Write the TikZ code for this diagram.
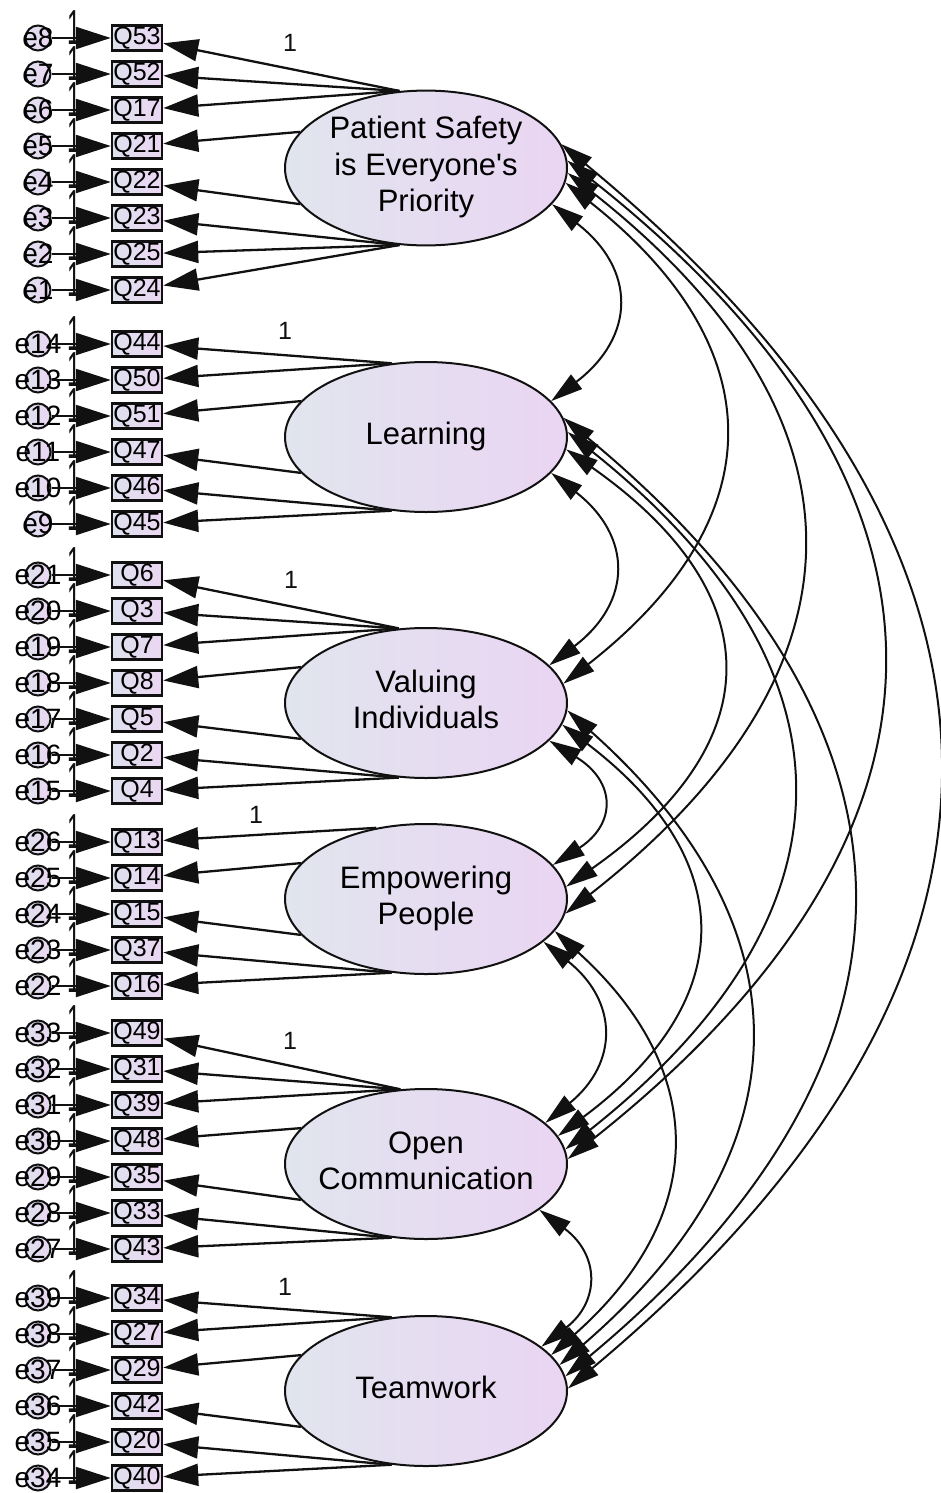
\documentclass[tikz,border=0pt]{standalone}
\usepackage{fontspec}
\setmainfont{Liberation Sans}[Ligatures=TeXOff]
\usepackage{graphicx}
\usetikzlibrary{arrows.meta,shapes.geometric,calc}
\definecolor{ink}{HTML}{111111}
\definecolor{latL}{HTML}{E1E5EE}
\definecolor{latR}{HTML}{EAD5F3}
\definecolor{boxL}{HTML}{DEE1EE}
\definecolor{boxR}{HTML}{EBD6F2}
\pgfdeclarelayer{back}
\pgfsetlayers{back,main}

\tikzset{
  obs/.style={rectangle, draw=ink, line width=2.5pt, minimum width=50pt, minimum height=25pt,
    inner sep=0pt, left color=boxL, right color=boxR, font=\fontsize{25}{25}\selectfont},
  err/.style={circle, draw=ink, line width=2pt, minimum size=25pt, inner sep=0pt,
    left color=boxL, right color=boxR, font=\fontsize{28}{28}\selectfont},
  lat/.style={ellipse, draw=ink, line width=2pt, minimum width=282pt, minimum height=150pt,
    inner sep=0pt, left color=latL, right color=latR, font=\fontsize{31}{36.5}\selectfont},
  reg/.style={draw=ink, line width=2.3pt, -{Triangle[length=35pt,width=22pt]}},
  covar/.style={draw=ink, line width=2pt,
    {Triangle[length=32pt,width=18pt]}-{Triangle[length=32pt,width=18pt]}},
  wt/.style={font=\fontsize{25}{25}\selectfont, inner sep=0pt, text=ink},
  wtstack/.style={font=\fontsize{24}{24}\selectfont, inner sep=0pt, anchor=north, text=ink},
}

% centred multi-line label that does not widen the ellipse
\newcommand\lattext[1]{\makebox[0pt]{\begin{tabular}{@{}c@{}}#1\end{tabular}}}

% one block of indicators: latent node, list of item/error/y/anchor-angle
\newcommand\indgroup[2]{%
  \foreach \q/\e/\y/\a in {#2}{
    \node[obs] (\q) at (137,\y) {\q};
    \node[err] (\e) at (38,\y) {\makebox[0pt]{\e}};
    \node[wtstack] (w\e) at (74,\y-28) {\scalebox{1}[2.05]{1}};
    \draw[reg] (\e) -- (\q);
    \begin{pgfonlayer}{back}
      \draw[reg] (#1.\a) -- (\q);
    \end{pgfonlayer}
  }}

% curved double-headed covariance between two latent variables
\newcommand\covarc[5]{%
  \draw[covar] let \p1=(#1.#2), \p2=(#3.#4) in
    (\p1) .. controls ({(#5pt-0.125*\x1-0.125*\x2)/0.75},{\y1+0.33*(\y2-\y1)})
             and ({(#5pt-0.125*\x1-0.125*\x2)/0.75},{\y2-0.33*(\y2-\y1)}) .. (\p2);}

\begin{document}
\begin{tikzpicture}[x=1pt,y=-1pt]
\useasboundingbox (0,0) rectangle (941,1493);

% latent factors
\node[lat] (L1) at (426,168) {\lattext{Patient Safety\\is Everyone's\\Priority}};
\node[lat] (L2) at (426,437) {\lattext{Learning}};
\node[lat] (L3) at (426,703) {\lattext{Valuing\\Individuals}};
\node[lat] (L4) at (426,899) {\lattext{Empowering\\People}};
\node[lat] (L5) at (426,1164) {\lattext{Open\\Communication}};
\node[lat] (L6) at (426,1391) {\lattext{Teamwork}};

% indicators with their error terms
\indgroup{L1}{Q53/e8/38/109, Q52/e7/74/109, Q17/e6/110/109, Q21/e5/146/164,
  Q22/e4/182/196, Q23/e3/218/251, Q25/e2/254/251, Q24/e1/290/251}
\indgroup{L2}{Q44/e14/344/115, Q50/e13/380/115, Q51/e12/416/164, Q47/e11/452/196,
  Q46/e10/488/245, Q45/e9/524/245}
\indgroup{L3}{Q6/e21/575/110, Q3/e20/611/110, Q7/e19/647/110, Q8/e18/683/164,
  Q5/e17/719/196, Q2/e16/755/250, Q4/e15/791/250}
\indgroup{L4}{Q13/e26/842/125, Q14/e25/878/164, Q15/e24/914/196, Q37/e23/950/245,
  Q16/e22/986/245}
\indgroup{L5}{Q49/e33/1033/109, Q31/e32/1069/109, Q39/e31/1105/109, Q48/e30/1141/164,
  Q35/e29/1177/196, Q33/e28/1213/245, Q43/e27/1249/245}
\indgroup{L6}{Q34/e39/1298/115, Q27/e38/1334/115, Q29/e37/1370/164, Q42/e36/1406/196,
  Q20/e35/1442/245, Q40/e34/1478/245}

% fixed loadings
\node[wt] (f1) at (290,43) {1};
\node[wt] (f2) at (285,331) {1};
\node[wt] (f3) at (291,580) {1};
\node[wt] (f4) at (256,815) {1};
\node[wt] (f5) at (290,1041) {1};
\node[wt] (f6) at (285,1287) {1};

% covariances between factors
\covarc{L1}{-16}{L2}{16}{615}
\covarc{L2}{-16}{L3}{17}{612}
\covarc{L3}{-17}{L4}{15}{600}
\covarc{L4}{-20}{L5}{19}{600}
\covarc{L5}{-22}{L6}{21}{585}
\covarc{L1}{-6}{L3}{8}{722}
\covarc{L2}{-5}{L4}{5}{720}
\covarc{L3}{-9}{L5}{12}{695}
\covarc{L4}{-14}{L6}{16}{670}
\covarc{L1}{-2}{L4}{-6}{800}
\covarc{L2}{2}{L5}{6}{790}
\covarc{L3}{-3}{L6}{11}{748}
\covarc{L1}{3}{L5}{2}{880}
\covarc{L2}{8}{L6}{6}{850}
\covarc{L1}{10}{L6}{1}{936}
\end{tikzpicture}
\end{document}
